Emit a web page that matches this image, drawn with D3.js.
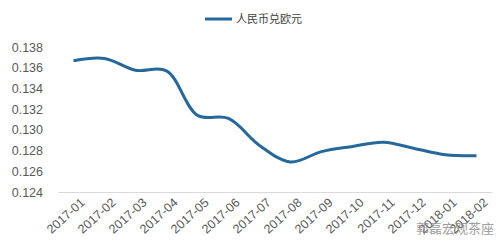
<!DOCTYPE html>
<html>
<head>
<meta charset="utf-8">
<script src="https://cdn.jsdelivr.net/npm/d3@7"></script>
<style>
  body { margin: 0; background: #fff; }
  text { font-family: "Liberation Sans", Arial, sans-serif; }
</style>
</head>
<body>
<script>
/** Chart data */
const months = ["2017-01", "2017-02", "2017-03", "2017-04", "2017-05", "2017-06", "2017-07",
                "2017-08", "2017-09", "2017-10", "2017-11", "2017-12", "2018-01", "2018-02"];
const rates = [0.13668, 0.1369, 0.13575, 0.1357, 0.1314, 0.1311, 0.1285,
               0.1269, 0.1279, 0.1284, 0.1288, 0.1282, 0.1276, 0.1275];
const yTicks = [0.124, 0.126, 0.128, 0.130, 0.132, 0.134, 0.136, 0.138];
const seriesName = "人民币兑欧元";

const width = 500, height = 248;
const plotLeft = 58, plotRight = 492, plotTop = 47, plotBottom = 192;

const svg = d3.select("body").append("svg")
    .attr("width", width)
    .attr("height", height);

const x_scale = d3.scaleBand().domain(months).range([plotLeft, plotRight]);
const y_scale = d3.scaleLinear().domain([0.124, 0.138]).range([plotBottom, plotTop]);

// y labels, no axis line
const y_axis = d3.axisLeft(y_scale).tickValues(yTicks).tickFormat(d3.format(".3f")).tickSize(0).tickPadding(15);
svg.append("g")
    .attr("transform", "translate(" + plotLeft + ",0)")
    .call(y_axis)
    .call(g => g.select(".domain").remove())
    .selectAll("text")
    .attr("fill", "#595959")
    .style("font-size", "12.5px");

// x axis
const x_axis = d3.axisBottom(x_scale).tickSize(0).tickPadding(8);
const xg = svg.append("g")
    .attr("transform", "translate(0," + plotBottom + ")")
    .call(x_axis);
xg.select(".domain").attr("stroke", "#d9d9d9").attr("stroke-width", 1.2);
xg.selectAll("text")
    .attr("fill", "#595959")
    .style("font-size", "12.5px")
    .attr("text-anchor", "end")
    .attr("dx", "0.1em")
    .attr("dy", "0.7em")
    .attr("transform", "rotate(-42)");

// line
const line = d3.line()
    .x((d, i) => x_scale(months[i]) + x_scale.bandwidth() / 2)
    .y(d => y_scale(d))
    .curve(d3.curveCatmullRom.alpha(0.5));
svg.append("path")
    .datum(rates)
    .attr("d", line)
    .attr("fill", "none")
    .attr("stroke", "#26689b")
    .attr("stroke-width", 3);

// legend
svg.append("line")
    .attr("x1", 205).attr("x2", 232)
    .attr("y1", 19).attr("y2", 19)
    .attr("stroke", "#26689b")
    .attr("stroke-width", 3);
svg.append("text")
    .attr("x", 236).attr("y", 23)
    .style("font-family", "'Noto Sans CJK SC'")
    .style("font-size", "11px")
    .attr("fill", "#404040")
    .text(seriesName);

// watermark
svg.append("text")
    .attr("x", 416).attr("y", 233)
    .style("font-family", "'Noto Sans CJK SC'")
    .style("font-size", "13px")
    .attr("fill", "#8a8a8a")
    .attr("opacity", 0.8)
    .text("郭磊宏观茶座");
</script>
</body>
</html>
